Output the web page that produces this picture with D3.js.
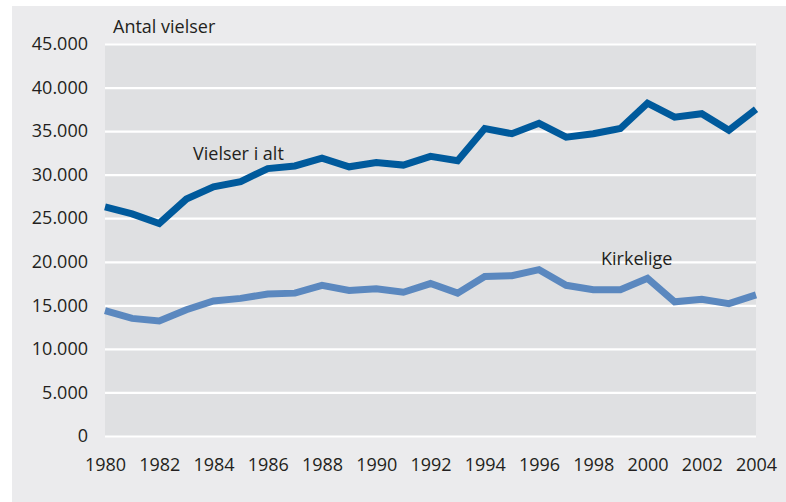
<!DOCTYPE html>
<html lang="da">
<head>
<meta charset="UTF-8">
<script src="https://d3js.org/d3.v7.min.js" charset="utf-8"></script>
<title>Vielser</title>
<style>
  body { margin: 0; background: #fff; }
  text { font-family: "Open Sans", "Noto Sans", sans-serif; fill: #231f20; }
</style>
</head>
<body>
<div id="chart"></div>
<script>
// årstal og værdier
const years = d3.range(1980, 2005);
const vielserIAlt = [26300, 25500, 24400, 27200, 28600, 29200, 30700, 31000, 31900, 30900,
  31400, 31100, 32100, 31600, 35300, 34700, 35900, 34300, 34700, 35300,
  38200, 36600, 37000, 35100, 37500];
const kirkelige = [14400, 13500, 13200, 14500, 15500, 15800, 16300, 16400, 17300, 16700,
  16900, 16500, 17500, 16400, 18300, 18400, 19100, 17300, 16800, 16800,
  18100, 15400, 15700, 15200, 16200];
const yTicks = d3.range(0, 45001, 5000);
const xTicks = d3.range(1980, 2005, 2);

const width = 786, height = 502;
const margin = { top: 44, right: 30, bottom: 66, left: 105 };

const svg = d3.select("#chart").append("svg")
  .attr("width", width)
  .attr("height", height);

// ydre panel
svg.append("rect")
  .attr("x", 12).attr("y", 6)
  .attr("width", width - 12).attr("height", height - 6)
  .attr("fill", "#ebebed");

const x = d3.scaleLinear()
  .domain([1980, 2004])
  .range([margin.left, width - margin.right]);
const y = d3.scaleLinear()
  .domain([0, 45000])
  .range([height - margin.bottom, margin.top]);

svg.append("rect")
  .attr("x", x(1980)).attr("y", y(45000))
  .attr("width", x(2004) - x(1980)).attr("height", y(0) - y(45000))
  .attr("fill", "#dfe0e2");

const fmt = d => d === 0 ? "0" : d3.format(",")(d).replace(/,/g, ".");

// gitterlinjer + y-akse
const yAxis = svg.append("g")
  .attr("transform", `translate(${x(1980)},0)`)
  .call(d3.axisLeft(y).tickValues(yTicks).tickFormat(fmt)
    .tickSize(-(x(2004) - x(1980))).tickPadding(17));
yAxis.select(".domain").remove();
yAxis.selectAll(".tick line").attr("stroke", "#fff").attr("stroke-width", 2.2);
yAxis.selectAll(".tick text").attr("font-size", 18).attr("fill", "#231f20");

const xAxis = svg.append("g")
  .attr("transform", `translate(0,${y(0)})`)
  .call(d3.axisBottom(x).tickValues(xTicks).tickFormat(d3.format("d"))
    .tickSize(0).tickPadding(22));
xAxis.select(".domain").remove();
xAxis.selectAll(".tick text").attr("font-size", 18).attr("fill", "#231f20");

const line = d3.line()
  .x((d, i) => x(years[i]))
  .y(d => y(d));

svg.append("path")
  .datum(kirkelige)
  .attr("d", line)
  .attr("fill", "none")
  .attr("stroke", "#5b88bf")
  .attr("stroke-width", 7)
  .attr("stroke-linejoin", "miter");

svg.append("path")
  .datum(vielserIAlt)
  .attr("d", line)
  .attr("fill", "none")
  .attr("stroke", "#005a9c")
  .attr("stroke-width", 7)
  .attr("stroke-linejoin", "miter");

svg.append("text")
  .attr("x", 113).attr("y", 33)
  .attr("font-size", 18)
  .text("Antal vielser");

svg.append("text")
  .attr("x", 193).attr("y", 160)
  .attr("font-size", 18)
  .text("Vielser i alt");

svg.append("text")
  .attr("x", 601).attr("y", 265)
  .attr("font-size", 18)
  .text("Kirkelige");
</script>
</body>
</html>
